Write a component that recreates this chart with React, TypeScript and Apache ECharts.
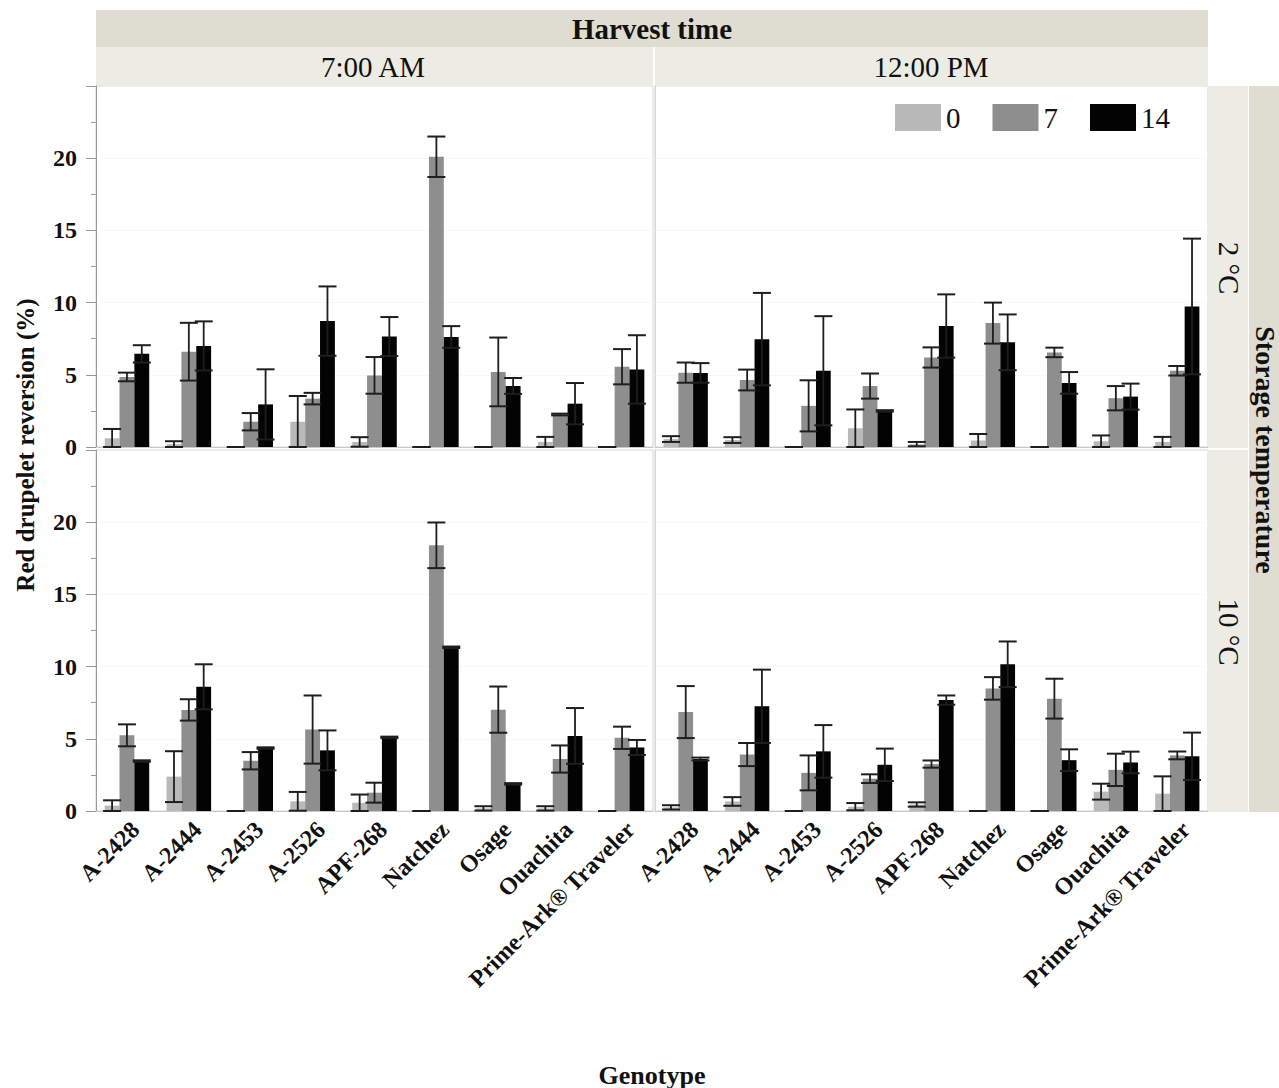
import React, { useEffect, useRef } from "react";
import * as echarts from "echarts";

const genotypes = ["A-2428", "A-2444", "A-2453", "A-2526", "APF-268", "Natchez", "Osage", "Ouachita", "Prime-Ark® Traveler"];
const storageDays = ["0", "7", "14"];
const harvestTimes = ["7:00 AM", "12:00 PM"];
const storageTemps = ["2 °C", "10 °C"];
const yTicks = [0, 5, 10, 15, 20];

// 7:00 AM, 2 °C
const am2_d0 = [0.6, 0.2, 0, 1.75, 0.35, 0, 0, 0.35, 0];
const am2_d0_se = [0.65, 0.2, 0, 1.78, 0.33, 0, 0, 0.35, 0];
const am2_d7 = [4.85, 6.6, 1.75, 3.35, 4.96, 20.1, 5.2, 2.25, 5.56];
const am2_d7_se = [0.3, 2.0, 0.6, 0.4, 1.27, 1.4, 2.38, 0.06, 1.22];
const am2_d14 = [6.45, 7.0, 2.95, 8.72, 7.65, 7.62, 4.23, 3.0, 5.37];
const am2_d14_se = [0.6, 1.7, 2.43, 2.4, 1.35, 0.75, 0.55, 1.43, 2.37];

// 12:00 PM, 2 °C
const pm2_d0 = [0.55, 0.48, 0, 1.3, 0.2, 0.45, 0, 0.4, 0.35];
const pm2_d0_se = [0.2, 0.2, 0, 1.3, 0.15, 0.45, 0, 0.4, 0.35];
const pm2_d7 = [5.15, 4.64, 2.85, 4.22, 6.2, 8.58, 6.55, 3.38, 5.28];
const pm2_d7_se = [0.7, 0.72, 1.77, 0.87, 0.7, 1.42, 0.33, 0.84, 0.33];
const pm2_d14 = [5.13, 7.47, 5.28, 2.5, 8.38, 7.25, 4.44, 3.49, 9.73];
const pm2_d14_se = [0.68, 3.2, 3.78, 0.05, 2.19, 1.93, 0.75, 0.9, 4.7];

// 7:00 AM, 10 °C
const am10_d0 = [0.37, 2.38, 0, 0.67, 0.57, 0, 0.18, 0.18, 0];
const am10_d0_se = [0.37, 1.76, 0, 0.65, 0.57, 0, 0.15, 0.15, 0];
const am10_d7 = [5.24, 7.0, 3.48, 5.64, 1.27, 18.4, 7.02, 3.6, 5.07];
const am10_d7_se = [0.76, 0.74, 0.6, 2.36, 0.69, 1.58, 1.6, 0.94, 0.77];
const am10_d14 = [3.46, 8.6, 4.36, 4.2, 5.1, 11.34, 1.88, 5.2, 4.4];
const am10_d14_se = [0.05, 1.56, 0.05, 1.38, 0.05, 0.05, 0.05, 1.93, 0.52];

// 12:00 PM, 10 °C
const pm10_d0 = [0.25, 0.66, 0, 0.3, 0.45, 0, 0, 1.34, 1.2];
const pm10_d0_se = [0.15, 0.3, 0, 0.25, 0.15, 0, 0, 0.55, 1.2];
const pm10_d7 = [6.85, 3.91, 2.64, 2.24, 3.25, 8.49, 7.78, 2.85, 3.85];
const pm10_d7_se = [1.8, 0.8, 1.21, 0.3, 0.25, 0.78, 1.38, 1.12, 0.27];
const pm10_d14 = [3.6, 7.25, 4.13, 3.2, 7.68, 10.16, 3.52, 3.36, 3.79];
const pm10_d14_se = [0.1, 2.54, 1.82, 1.12, 0.32, 1.58, 0.75, 0.75, 1.64];

const panelMeans = [
  [am2_d0, am2_d7, am2_d14],
  [pm2_d0, pm2_d7, pm2_d14],
  [am10_d0, am10_d7, am10_d14],
  [pm10_d0, pm10_d7, pm10_d14],
];
const panelErrs = [
  [am2_d0_se, am2_d7_se, am2_d14_se],
  [pm2_d0_se, pm2_d7_se, pm2_d14_se],
  [am10_d0_se, am10_d7_se, am10_d14_se],
  [pm10_d0_se, pm10_d7_se, pm10_d14_se],
];

const barColors = ["#b9b9b9", "#8e8e8e", "#030303"];
const SERIF = "'Liberation Serif', 'Times New Roman', serif";
const BW = 0.24;

const grids = [
  { left: 96, top: 86, width: 557, height: 361 },
  { left: 655, top: 86, width: 553, height: 361 },
  { left: 96, top: 450, width: 557, height: 361 },
  { left: 655, top: 450, width: 553, height: 361 },
];

export default function App() {
  const ref = useRef<HTMLDivElement>(null);
  useEffect(() => {
    if (!ref.current) return;
    const chart = echarts.init(ref.current, null, { renderer: "svg" });

    const xAxes = grids.map((_, p) => ({
      type: "category",
      gridIndex: p,
      data: genotypes,
      axisLine: { show: true, lineStyle: { color: "#c9c9c9", width: 1 } },
      axisTick: { show: false },
      axisLabel: p >= 2
        ? {
            show: true,
            interval: 0,
            rotate: 45,
            margin: 6,
            verticalAlign: "top",
            fontFamily: SERIF,
            fontWeight: "bold",
            fontSize: 24,
            color: "#111",
          }
        : { show: false },
      splitLine: { show: false },
    }));

    const yAxes = grids.map((_, p) => ({
      type: "value",
      gridIndex: p,
      min: 0,
      max: 25,
      interval: 5,
      axisLine: { show: true, lineStyle: { color: p % 2 === 0 ? "#9a9a9a" : "#d6d6d6", width: 1 } },
      axisTick: p % 2 === 0 ? { show: true, length: 10, lineStyle: { color: "#9a9a9a" } } : { show: false },
      minorTick: p % 2 === 0 ? { show: true, splitNumber: 2, length: 5, lineStyle: { color: "#9a9a9a" } } : { show: false },
      axisLabel: p % 2 === 0
        ? {
            show: true,
            margin: 19,
            fontFamily: SERIF,
            fontWeight: "bold",
            fontSize: 24,
            color: "#111",
            formatter: (v: number) => (yTicks.includes(v) ? String(v) : ""),
          }
        : { show: false },
      splitLine: { show: true, lineStyle: { color: "#f1f1f1", type: "dotted" } },
      minorSplitLine: { show: false },
    }));

    const series: any[] = [];
    for (let p = 0; p < 4; p++) {
      for (let d = 0; d < 3; d++) {
        series.push({
          type: "bar",
          name: storageDays[d],
          xAxisIndex: p,
          yAxisIndex: p,
          data: panelMeans[p][d],
          barWidth: BW * 100 + "%",
          barGap: "0%",
          itemStyle: { color: barColors[d] },
          z: 2,
        });
      }
    }
    for (let p = 0; p < 4; p++) {
      for (let d = 0; d < 3; d++) {
        const data = panelMeans[p][d].map((m, i) => [i, m, panelErrs[p][d][i], d]);
        series.push({
          type: "custom",
          name: "err" + p + "_" + d,
          xAxisIndex: p,
          yAxisIndex: p,
          data,
          z: 5,
          encode: { x: 0, y: 1 },
          renderItem: (params: any, api: any) => {
            const cat = api.value(0);
            const mean = api.value(1);
            const se = api.value(2);
            const idx = api.value(3);
            const c = api.coord([cat, mean]);
            const band = api.size([1, 0])[0];
            const x = c[0] + (idx - 1) * band * BW;
            const yTop = api.coord([cat, mean + se])[1];
            const yBot = api.coord([cat, Math.max(0, mean - se)])[1];
            const hw = 9;
            const st = { stroke: "#1e1e1e", lineWidth: 2 };
            return {
              type: "group",
              children: [
                { type: "line", shape: { x1: x, y1: yTop, x2: x, y2: yBot }, style: { stroke: "#1e1e1e", lineWidth: 1.8 } },
                { type: "line", shape: { x1: x - hw, y1: yTop, x2: x + hw, y2: yTop }, style: st },
                { type: "line", shape: { x1: x - hw, y1: yBot, x2: x + hw, y2: yBot }, style: st },
              ],
            };
          },
        });
      }
    }

    const graphic: any[] = [
      // top strips
      { type: "rect", shape: { x: 96, y: 10, width: 1112, height: 37 }, style: { fill: "#dfdcd1" }, silent: true },
      { type: "rect", shape: { x: 96, y: 47, width: 557, height: 38 }, style: { fill: "#ecebe4" }, silent: true },
      { type: "rect", shape: { x: 655, y: 47, width: 553, height: 38 }, style: { fill: "#ecebe4" }, silent: true },
      { type: "text", x: 652, y: 29, style: { text: "Harvest time", font: "bold 29px " + SERIF, fill: "#111", align: "center", verticalAlign: "middle" }, silent: true },
      { type: "text", x: 373, y: 67, style: { text: harvestTimes[0], font: "29px " + SERIF, fill: "#111", align: "center", verticalAlign: "middle" }, silent: true },
      { type: "text", x: 931, y: 67, style: { text: harvestTimes[1], font: "29px " + SERIF, fill: "#111", align: "center", verticalAlign: "middle" }, silent: true },
      // right strips
      { type: "rect", shape: { x: 1209, y: 86, width: 39, height: 362 }, style: { fill: "#ecebe4" }, silent: true },
      { type: "rect", shape: { x: 1209, y: 450, width: 39, height: 362 }, style: { fill: "#ecebe4" }, silent: true },
      { type: "rect", shape: { x: 1249, y: 86, width: 30, height: 726 }, style: { fill: "#dfdcd1" }, silent: true },
      { type: "text", x: 1229, y: 268, rotation: -Math.PI / 2, style: { text: storageTemps[0], font: "29px " + SERIF, fill: "#111", align: "center", verticalAlign: "middle" }, silent: true },
      { type: "text", x: 1229, y: 632, rotation: -Math.PI / 2, style: { text: storageTemps[1], font: "29px " + SERIF, fill: "#111", align: "center", verticalAlign: "middle" }, silent: true },
      { type: "text", x: 1265, y: 450, rotation: -Math.PI / 2, style: { text: "Storage temperature", font: "bold 28px " + SERIF, fill: "#111", align: "center", verticalAlign: "middle" }, silent: true },
      // axis titles
      { type: "text", x: 25, y: 445, rotation: Math.PI / 2, style: { text: "Red drupelet reversion (%)", font: "bold 25px " + SERIF, fill: "#111", align: "center", verticalAlign: "middle" }, silent: true },
      { type: "text", x: 652, y: 1075, style: { text: "Genotype", font: "bold 26px " + SERIF, fill: "#111", align: "center", verticalAlign: "middle" }, silent: true },
    ];

    chart.setOption({
      animation: false,
      backgroundColor: "#ffffff",
      grid: grids.map((g) => ({ ...g, show: true, borderColor: "#d4d4d4", borderWidth: 1, backgroundColor: "transparent" })),
      xAxis: xAxes,
      yAxis: yAxes,
      legend: {
        data: storageDays,
        left: 890,
        top: 98,
        itemWidth: 46,
        itemHeight: 27,
        itemGap: 32,
        icon: "rect",
        textStyle: { fontFamily: SERIF, fontSize: 29, color: "#111", padding: [0, 0, 0, 0] },
        selectedMode: false,
      },
      graphic,
      series,
    });
    return () => chart.dispose();
  }, []);
  return <div ref={ref} style={{ position: "absolute", left: 0, top: 0, width: 1279, height: 1088 }} />;
}
